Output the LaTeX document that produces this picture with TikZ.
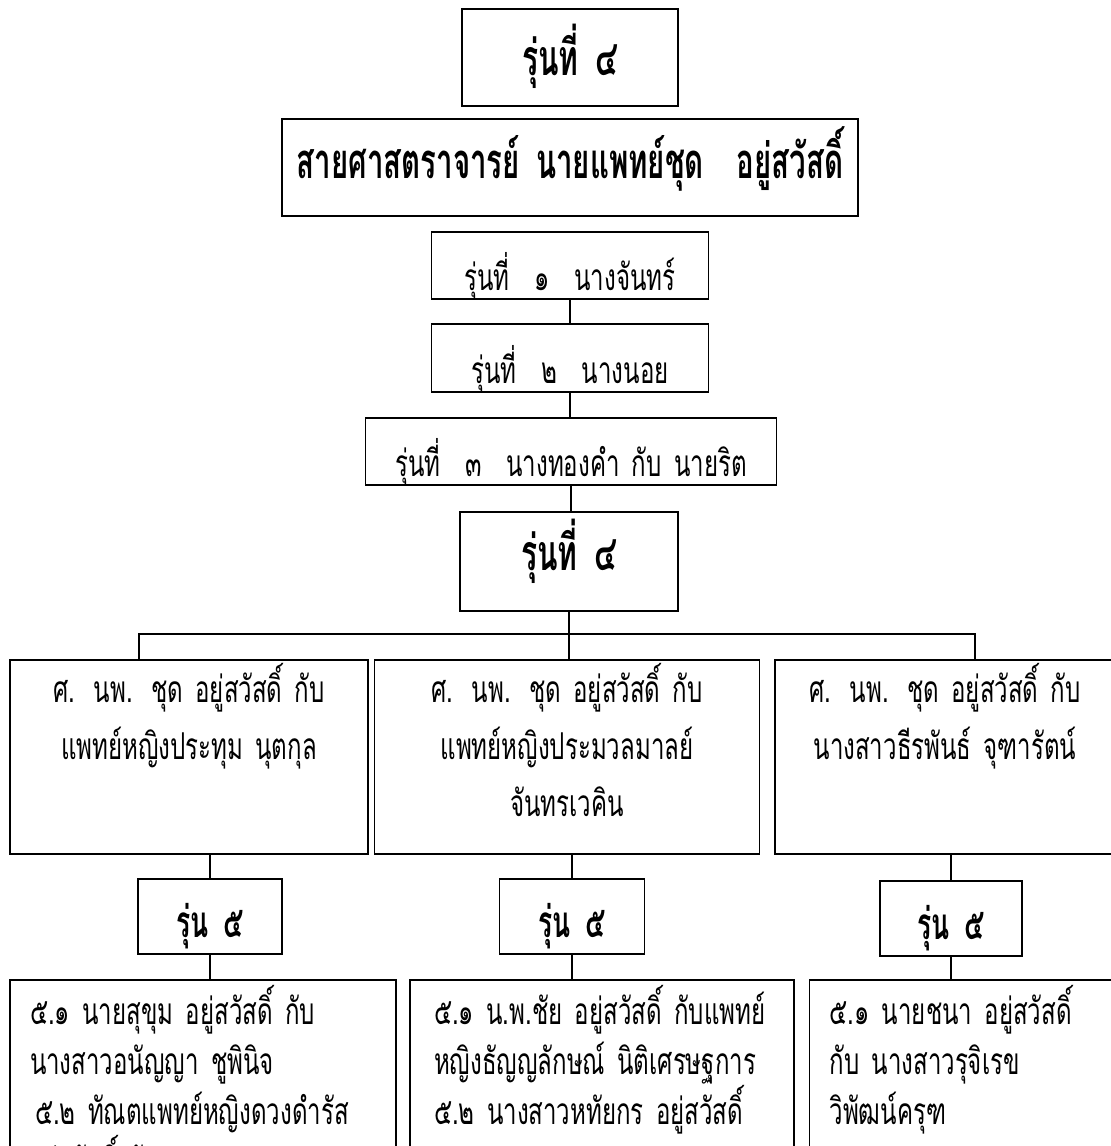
\documentclass[tikz,border=0pt]{standalone}
\usepackage{fontspec}
\newfontfamily\thai[Script=Thai,FakeStretch=0.65,WordSpace=1.5]{Loma}
\newfontfamily\thaihd[Script=Thai,FakeStretch=0.6,WordSpace=1.45]{Loma}
\begin{document}
\begin{tikzpicture}[x=1pt,y=-1pt,
    rbox/.style={draw,line width=1.6pt,inner sep=0pt,anchor=north,align=center},
    conn/.style={line width=1.3pt},
    reg/.style={font=\thai\fontsize{37}{57}\selectfont},
    regb/.style={font=\thai\fontsize{37}{50}\selectfont},
    hd/.style={font=\thaihd\bfseries\fontsize{#1}{#1}\selectfont}]
    \clip (0,0) rectangle (1111,1146);
    \fill[white] (0,0) rectangle (1111,1146);

    \node[rbox,hd=50,text width=216pt,text height=67pt,text depth=30pt] (top) at (570,8) {รุ่นที่ ๔};
    \node[rbox,hd=49,text width=576pt,text height=60pt,text depth=37pt] (chud) at (570,118) {สายศาสตราจารย์ นายแพทย์ชุด~~อยู่สวัสดิ์};

    \node[rbox,reg,text width=277pt,text height=59pt,text depth=8pt] (g1) at (570,231) {รุ่นที่~ ๑~ นางจันทร์};
    \node[rbox,reg,text width=277pt,text height=60pt,text depth=8pt] (g2) at (570,323) {รุ่นที่~ ๒~ นางนอย};
    \node[rbox,reg,text width=411pt,text height=59pt,text depth=8pt] (g3) at (571,417) {รุ่นที่~ ๓~ นางทองคำ กับ นายริต};
    \node[rbox,hd=50,text width=218pt,text height=59pt,text depth=40pt] (g4) at (569,511) {รุ่นที่ ๔};

    \node[rbox,reg,text width=358pt,text height=43pt,text depth=151pt] (wife1) at (189,659) {ศ. นพ. ชุด อยู่สวัสดิ์ กับ\\แพทย์หญิงประทุม นุตกุล};
    \node[rbox,reg,text width=385pt,text height=43pt,text depth=151pt] (wife2) at (567,659) {ศ. นพ. ชุด อยู่สวัสดิ์ กับ\\แพทย์หญิงประมวลมาลย์\\จันทรเวคิน};
    \node[rbox,reg,text width=340pt,text height=43pt,text depth=151pt] (wife3) at (945,659) {ศ. นพ. ชุด อยู่สวัสดิ์ กับ\\นางสาวธีรพันธ์ จุฑารัตน์};

    \node[rbox,hd=44,text width=144pt,text height=59pt,text depth=16pt] (r1) at (210,878) {รุ่น ๕};
    \node[rbox,hd=44,text width=145pt,text height=59pt,text depth=16pt] (r2) at (572,878) {รุ่น ๕};
    \node[rbox,hd=44,text width=142pt,text height=59pt,text depth=16pt] (r3) at (951,880) {รุ่น ๕};

    \node[rbox,regb,align=left,inner xsep=20pt,text width=346pt,text height=45pt,text depth=250pt] (kids1) at (203,979) {๕.๑ นายสุขุม อยู่สวัสดิ์ กับ\\นางสาวอนัญญา ชูพินิจ\\\hspace*{5pt}๕.๒ ทัณตแพทย์หญิงดวงดำรัส\\อยู่สวัสดิ์ กับ};
    \node[rbox,regb,align=left,inner xsep=24pt,text width=336pt,text height=45pt,text depth=250pt] (kids2) at (602,979) {๕.๑ น.พ.ชัย อยู่สวัสดิ์ กับแพทย์\\หญิงธัญญลักษณ์ นิติเศรษฐการ\\๕.๒ นางสาวหทัยกร อยู่สวัสดิ์};
    \node[rbox,regb,align=left,inner xsep=20pt,text width=275pt,text height=45pt,text depth=250pt] (kids3) at (967,979) {๕.๑ นายชนา อยู่สวัสดิ์\\กับ นางสาวรุจิเรข\\วิพัฒน์ครุฑ};

    \coordinate (busL) at (139,634);
    \coordinate (busR) at (975,634);

    \draw[conn] (g1.south) -- (g1.south |- g2.north);
    \draw[conn] (g2.south) -- (g2.south |- g3.north);
    \draw[conn] (g3.south) -- (g3.south |- g4.north);
    \draw[conn] (g4.south) -- (g4.south |- wife2.north);
    \draw[conn] (wife1.north -| busL) |- (busR) -- (wife3.north -| busR);

    \draw[conn] (r1.north) -- (r1.north |- wife1.south);
    \draw[conn] (r2.north) -- (r2.north |- wife2.south);
    \draw[conn] (r3.north) -- (r3.north |- wife3.south);
    \draw[conn] (r1.south) -- (r1.south |- kids1.north);
    \draw[conn] (r2.south) -- (r2.south |- kids2.north);
    \draw[conn] (r3.south) -- (r3.south |- kids3.north);
\end{tikzpicture}
\end{document}
